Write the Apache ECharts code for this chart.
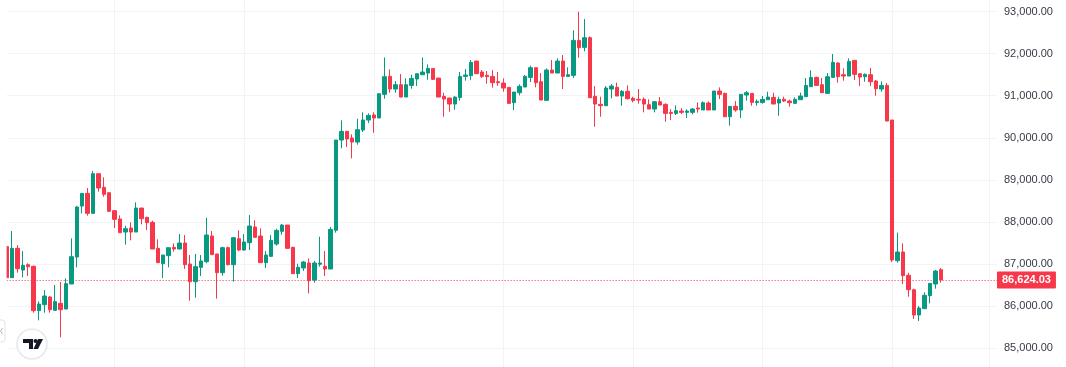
<!DOCTYPE html>
<html><head><meta charset="utf-8">
<style>html,body{margin:0;padding:0;background:#fff}#c{width:1066px;height:367px}</style>
<script src="https://cdn.jsdelivr.net/npm/echarts@6/dist/echarts.min.js"></script>
</head><body><div id="c"></div>
<script>
// each candle: open, close, low, high
const candles1 = [
[87414,86677,86677,87414],[86677,87374,86677,87786],[87374,86891,86796,87453],[86859,86970,86685,87311],[86986,86939,86717,87018],
[86947,85894,85846,86963],[85894,86052,85664,86115],[86036,86242,85846,86384],[86218,85917,85846,86242],[85901,86107,85901,86503],
[86068,85917,85260,86574],[85933,86535,85933,86662],[86527,87176,86527,87611],[87168,88356,86923,88379],[88379,88680,88205,88680],
[88680,88205,88150,88807],[88205,89147,88205,89211],[89147,88807,88720,89147],[88823,88657,88601,89060],[88696,88253,88253,88696],
[88269,88063,87857,88284],[88071,87746,87746,88158],[87762,87841,87461,87912],[87857,87762,87564,87992],[87762,88332,87762,88467],
[88332,88079,87944,88332],[88110,87984,87810,88126],[87992,87358,87358,88031],[87374,87034,87034,87588],[87010,87216,86669,87216],
[87200,87390,86923,87390],[87398,87358,87295,87493],[87358,87501,87358,87714],[87501,86986,86883,87691],[87002,86582,86131,87216],
[86582,86939,86202,87240],[86923,87073,86717,87216],[87057,87691,87018,88102],[87667,87224,87224,87786],[87240,86796,86179,87240],
[86796,87390,86725,87414],[87390,86986,86970,87414],[86986,87628,86582,87628],[87604,87334,87311,87802],[87334,87524,87319,87714],
[87509,87904,87334,88166],[87881,87635,87635,88039],[87667,87034,87034,87849],[87034,87216,86907,87311],[87184,87564,87184,87691],
[87477,87801,87437,87841],[87778,87928,87699,87952],[87928,87374,87374,87928],[87398,86772,86772,87414],[86772,86923,86669,87010],
[86907,87049,86836,87073],[87026,86606,86305,87137],[86622,87026,86559,87073],[86997,87026,86939,87651],[86947,86883,86717,87311],
[86883,87825,86883,87881]];
const candles2 = [
[87802,89947,87746,89947],[89947,90153,89749,90414],[90153,89971,89781,90153],[89994,89899,89512,90082],[89899,90192,89836,90454],
[90184,90422,90137,90604],[90422,90533,90351,90580],[90541,90470,90121,90604],[90470,91047,90470,91047],[91032,91451,90929,91910],
[91459,91158,91071,91625],[91158,91261,91071,91348],[91261,90968,90960,91514],[90968,91261,90968,91411],[91245,91411,91166,91498],
[91396,91522,91229,91522],[91498,91562,91498,91910],[91538,91649,91380,91744],[91649,91388,91372,91649],[91419,90968,90968,91419],
[90984,90921,90501,91071],[90945,90802,90620,90945],[90802,90968,90667,90984],[90960,91459,90881,91562],[91459,91491,91356,91633],
[91475,91791,91372,91847],[91823,91522,91514,91823],[91562,91459,91420,91609],[91483,91451,91285,91586],[91459,91309,91190,91609],
[91332,91309,91237,91562],[91300,91182,91095,91411],[91198,90818,90818,91198],[90834,91087,90659,91087],[91071,91222,91008,91269],
[91206,91459,91206,91491],[91435,91665,91324,91712],[91665,91309,91198,91665],[91332,90897,90897,91538],[90889,91609,90889,91649],
[91609,91538,91538,91847],[91538,91823,91538,91887],[91823,91459,91158,91966],[91459,91498,91459,91673],[91483,92314,91420,92552],
[92314,92140,91902,92995],[92148,92377,92053,92821],[92377,90952,90952,92409],[90984,90802,90264,91229],[90794,90762,90501,90976]];
const candles3 = [
[90762,91182,90762,91229],[91158,91229,90937,91277],[91198,90992,90992,91309],[90992,91103,90762,91135],[91103,90929,90913,91245],
[90937,90889,90841,90976],[90913,90897,90810,91158],[90913,90802,90604,90960],[90786,90683,90683,90913],[90683,90857,90604,90873],
[90857,90778,90778,90968],[90794,90580,90382,90818],[90604,90580,90422,90683],[90580,90644,90541,90770],[90636,90604,90564,90707],
[90604,90636,90469,90675],[90604,90683,90557,90707],[90707,90683,90596,90841],[90660,90834,90660,90865],[90826,90660,90660,90865],
[90660,91111,90660,91111],[91111,91032,90921,91198],[91055,90501,90501,91071],[90501,90747,90287,90747],[90747,90660,90620,90873],
[90660,91032,90469,91032],[91016,91071,90881,91111]];
const candles4 = [
[91055,90841,90762,91055],[90841,90865,90762,90913],[90841,90913,90810,90992],[90905,90968,90905,91095],[90960,90802,90802,91071],
[90826,90913,90525,90976],[90913,90873,90849,90976],[90873,90834,90739,90905],[90818,90913,90802,90960],[90905,90992,90905,91071],
[90976,91245,90976,91419],[91214,91435,91214,91602],[91435,91245,91245,91451],[91261,91071,91071,91419],[91055,91451,91055,91538],
[91435,91792,91435,91990],[91776,91451,91309,91792],[91499,91467,91356,91649],[91467,91815,91467,91887],[91839,91507,91372,91839],
[91522,91443,91229,91522],[91451,91507,91332,91530],[91499,91332,91229,91657],[91348,91166,91000,91372],[91158,91245,91095,91340],
[91245,90398,90398,91300],[90422,87097,87049,90422],[87081,87287,87034,87746],[87287,86725,86527,87493],[86733,86392,86226,86796],
[86392,85791,85696,86416],[85791,85957,85648,86004],[85941,86258,85941,86329],[86250,86543,86068,86543],[86527,86836,86416,86860],
[86867,86624,86559,86907]];
const dayBreaks = [20,44,68,92,116,140,164,182];
const lastPrice = 86624.03;
const priceTicks = [85000,86000,87000,88000,89000,90000,91000,92000,93000];

const rows = candles1.concat(candles2,candles3,candles4).map((c,i)=>[i,c[0],c[1],c[2],c[3]]);
const fmt = v => v.toLocaleString('en-US',{minimumFractionDigits:2,maximumFractionDigits:2});
const UP='#089981', DOWN='#F7374A', GRID='#f2f3f5';
const chart = echarts.init(document.getElementById('c'),null,{renderer:'canvas'});
chart.setOption({
  animation:false,
  backgroundColor:'#fff',
  textStyle:{fontFamily:'"Liberation Sans",Arial,sans-serif'},
  grid:{left:6.6,top:-30.6,width:990.4,height:421,containLabel:false,outerBoundsMode:'none'},
  xAxis:{type:'value',min:0,max:183.4,show:false,splitLine:{show:false}},
  yAxis:{type:'value',position:'right',min:84000,max:94000,interval:1000,
    axisLine:{show:false},axisTick:{show:false},
    axisLabel:{color:'#363a45',fontSize:11,margin:7,padding:[0,0,2,0],
      formatter:v=>priceTicks.includes(v)?fmt(v):''},
    splitLine:{show:true,lineStyle:{color:GRID,width:1}}},
  series:[{
    type:'candlestick',
    encode:{x:0,y:[1,2,3,4]},
    data:rows,
    barWidth:4,
    clip:true,
    itemStyle:{color:UP,color0:DOWN,borderColor:UP,borderColor0:DOWN,borderWidth:1},
    markLine:{
      silent:true,symbol:'none',animation:false,z:1,
      data:dayBreaks.map(d=>({xAxis:d,lineStyle:{color:GRID,width:1,type:'solid'},label:{show:false}}))
        .concat([{yAxis:lastPrice,
          lineStyle:{color:DOWN,width:1,type:[1,2]},
          label:{show:true,position:'end',distance:0,formatter:fmt(lastPrice),color:'#fff',
            backgroundColor:DOWN,fontSize:11,fontWeight:'bold',padding:[3,5,3,5],borderRadius:1}}])
    }
  }],
  graphic:[
    {type:'rect',z:100,shape:{x:0,y:0,width:6.6,height:367},style:{fill:'#fff'}},
    {type:'circle',z:101,shape:{cx:32,cy:344,r:15},style:{fill:'#fff',stroke:'#e6e8f0',lineWidth:1.5}},
    {type:'polygon',z:101,shape:{points:[[23,339],[33,339],[33,349],[29,349],[29,343],[23,343]]},style:{fill:'#131722'}},
    {type:'circle',z:101,shape:{cx:35.5,cy:341,r:2},style:{fill:'#131722'}},
    {type:'polygon',z:101,shape:{points:[[38,339],[43,339],[38,349],[33.5,349]]},style:{fill:'#131722'}},
    {type:'rect',z:101,shape:{x:-4,y:320,width:9,height:22,r:3},style:{fill:'#fff',stroke:'#e0e3eb',lineWidth:1}},
    {type:'polyline',z:101,shape:{points:[[2.5,328],[0.5,331],[2.5,334]]},style:{fill:'none',stroke:'#b2b5be',lineWidth:1}}
  ]
});
</script></body></html>
